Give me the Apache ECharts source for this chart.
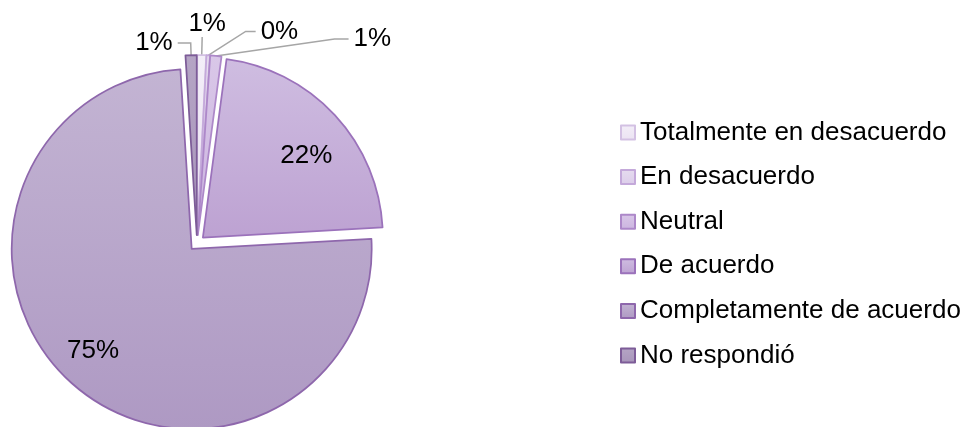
<!DOCTYPE html>
<html>
<head>
<meta charset="utf-8">
<script src="https://cdn.jsdelivr.net/npm/echarts@6/dist/echarts.min.js"></script>
<style>
  html, body { margin: 0; padding: 0; background: #ffffff; }
  #chart { width: 969px; height: 427px; }
</style>
</head>
<body>
<div id="chart"></div>
<script>
// ---- data ----
const categories = ['Totalmente en desacuerdo', 'En desacuerdo', 'Neutral', 'De acuerdo', 'Completamente de acuerdo', 'No respondió'];
const values = [0.8, 0.3, 1.0, 22.0, 74.9, 1.0];

// ---- styles ----
const fillTop    = ['#f3eef8', '#e6dcef', '#d9c7e8', '#cfbde1', '#c3b4d3', '#b5a5c5'];
const fillBottom = ['#ebe3f2', '#dccdea', '#ccb5e0', '#bda2d2', '#ae99c3', '#a895ba'];
const borders    = ['#d3c1e3', '#c4a9da', '#ad88c9', '#9b72bb', '#8e67ac', '#7d5c98'];
const insideLabel = [false, false, false, true, true, false];
const lineLen  = [18, 24, 17, 0, 0, 12];
const lineLen2 = [0, 46, 131, 0, 0, 13];

const FONT = '"Liberation Sans", Arial, sans-serif';
const FS = 26;

function grad(i) {
  return new echarts.graphic.LinearGradient(0, 0, 0, 1, [
    { offset: 0, color: fillTop[i] },
    { offset: 1, color: fillBottom[i] }
  ]);
}

const mainData = categories.map((name, i) => {
  const style = { color: grad(i), borderColor: borders[i], borderWidth: 1.75 };
  return {
    name: name,
    value: values[i],
    selected: true,
    itemStyle: style,
    select: { itemStyle: style },
    label: { show: !insideLabel[i] },
    labelLine: { show: !insideLabel[i], length: lineLen[i], length2: lineLen2[i] }
  };
});

const overlayData = categories.map((name, i) => ({
  name: name,
  value: values[i],
  selected: true,
  label: { show: insideLabel[i] }
}));

const pctFmt = p => Math.round(p.percent) + '%';

const chart = echarts.init(document.getElementById('chart'), null, { renderer: 'canvas' });
chart.setOption({
  animation: false,
  backgroundColor: '#ffffff',
  legend: {
    orient: 'vertical',
    left: 620,
    top: 119.5,
    padding: 0,
    itemWidth: 14,
    itemHeight: 14,
    itemGap: 18.6,
    icon: 'rect',
    data: categories,
    selectedMode: false,
    textStyle: { fontFamily: FONT, fontSize: FS, lineHeight: 26, color: '#000000' }
  },
  series: [
    {
      type: 'pie',
      center: [197, 243],
      radius: [0, 180],
      startAngle: 90,
      clockwise: true,
      selectedMode: 'multiple',
      selectedOffset: 8,
      avoidLabelOverlap: false,
      emphasis: { disabled: true },
      data: mainData,
      label: {
        position: 'outside',
        formatter: pctFmt,
        fontFamily: FONT,
        fontSize: FS,
        color: '#000000'
      },
      labelLine: {
        lineStyle: { color: '#a6a6a6', width: 1.5 },
        smooth: false
      },
      labelLayout: function (p) {
        const pts = p.labelLinePoints;
        if (!pts || pts.length < 3) return {};
        const e = pts[2];
        if (p.dataIndex === 0) {
          return { x: e[0] - 5, y: e[1] + 1, align: 'center', verticalAlign: 'bottom', labelLinePoints: pts };
        }
        if (p.dataIndex === 1) {
          return { x: e[0] + 4, y: e[1] - 11, align: 'left', labelLinePoints: [pts[0], [e[0] - 10, e[1]], e] };
        }
        if (p.dataIndex === 2) {
          return { x: e[0] + 5, y: e[1] - 11, align: 'left', labelLinePoints: [pts[0], [e[0] - 14, e[1]], e] };
        }
        if (p.dataIndex === 5) {
          return { x: e[0] - 8, y: e[1] - 11, align: 'right', labelLinePoints: pts };
        }
        return {};
      }
    },
    {
      type: 'pie',
      center: [197, 243],
      radius: [0, 276],
      startAngle: 90,
      clockwise: true,
      selectedMode: 'multiple',
      selectedOffset: 8,
      silent: true,
      z: 3,
      emphasis: { disabled: true },
      itemStyle: { color: 'rgba(0,0,0,0)', borderWidth: 0 },
      select: { itemStyle: { color: 'rgba(0,0,0,0)', borderWidth: 0 } },
      labelLine: { show: false },
      label: {
        position: 'inside',
        formatter: pctFmt,
        fontFamily: FONT,
        fontSize: FS,
        color: '#000000'
      },
      labelLayout: function (p) {
        if (p.dataIndex === 3) return { dx: 0, dy: 14 };
        if (p.dataIndex === 4) return { dx: -5, dy: -4 };
        return {};
      },
      data: overlayData
    }
  ]
});
</script>
</body>
</html>
